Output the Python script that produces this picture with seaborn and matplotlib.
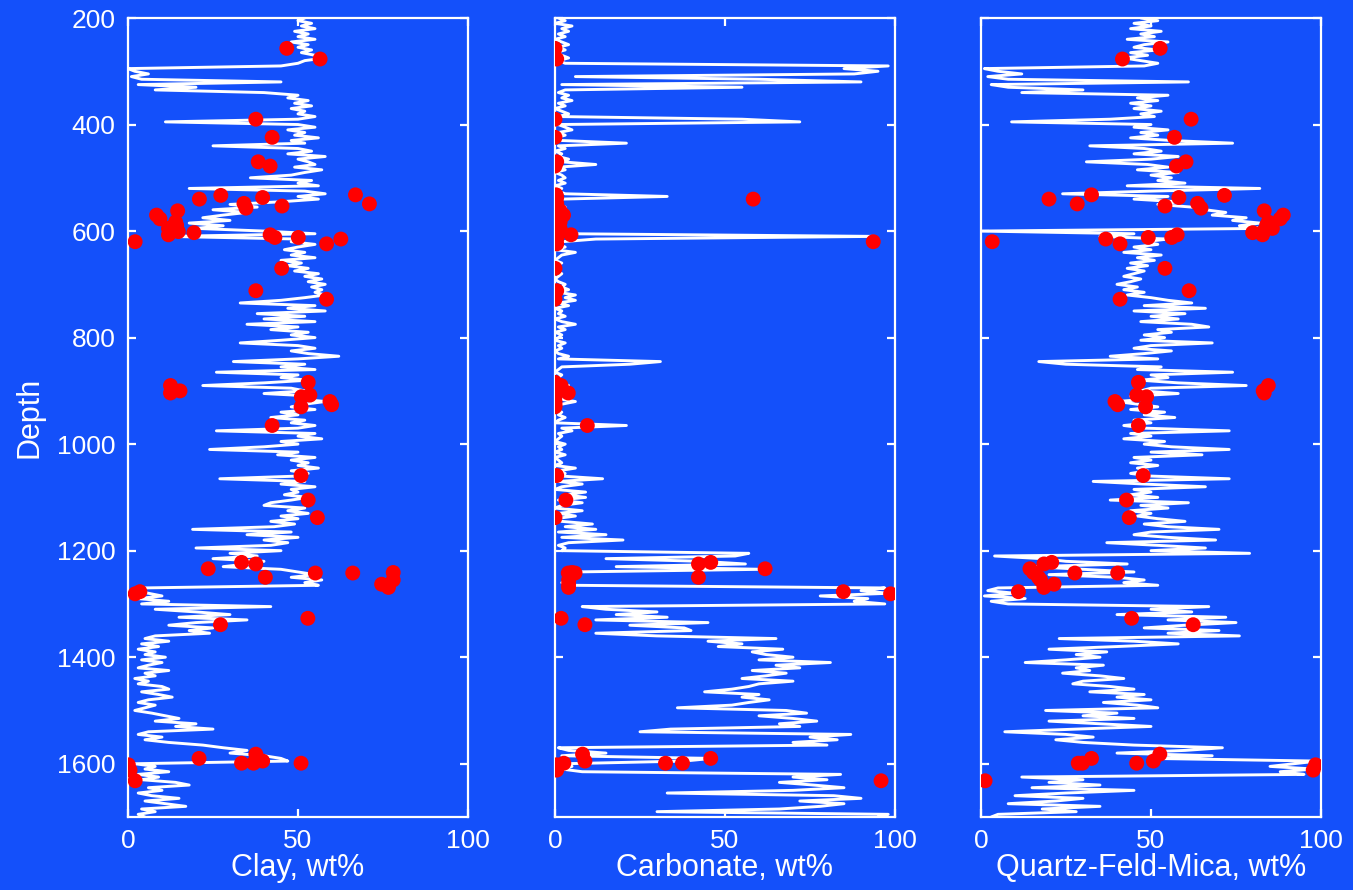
import numpy as np
import matplotlib
matplotlib.use("Agg")
import matplotlib.pyplot as plt
import seaborn as sns

# ---------------- data ----------------
# well-log sampling depths (regular 5-unit log sampling, 200 .. 1700)
log_depth = np.arange(200, 1701, 5)

# Clay log, wt% (one row per 100 depth units, 20 samples each) + last sample
clay_log = [
    52, 50, 54, 51, 55, 49, 53, 50, 55, 48, 53, 50, 54, 51, 55, 58, 52, 50, 45, 0,
    2, 6, 1, 4, 45, 3, 20, 8, 40, 50, 47, 53, 49, 54, 48, 52, 50, 55, 50, 11,
    50, 55, 47, 52, 49, 56, 48, 52, 25, 50, 54, 47, 58, 50, 53, 55, 49, 57, 52, 48,
    36, 54, 50, 56, 18, 52, 58, 50, 56, 45, 30, 38, 25, 35, 28, 22, 30, 18, 28, 20,
    40, 55, 12, 50, 48, 55, 50, 46, 52, 48, 55, 45, 51, 47, 53, 49, 56, 52, 57, 53,
    58, 54, 57, 55, 58, 52, 45, 33, 55, 47, 58, 38, 52, 40, 55, 35, 50, 42, 53, 48,
    55, 45, 33, 50, 55, 48, 53, 62, 50, 31, 52, 45, 55, 26, 50, 45, 53, 40, 22, 48,
    52, 40, 55, 50, 58, 52, 48, 55, 45, 50, 42, 52, 48, 55, 50, 26, 55, 50, 57, 45,
    50, 40, 24, 50, 44, 55, 48, 53, 50, 56, 48, 53, 50, 27, 52, 45, 55, 48, 50, 46,
    53, 48, 42, 40, 52, 47, 53, 45, 50, 42, 49, 43, 19, 48, 35, 50, 40, 47, 42, 20,
    45, 30, 38, 25, 40, 35, 28, 45, 50, 55, 48, 57, 52, 56, 4, 3, 6, 10, 3, 12,
    4, 42, 8, 20, 30, 15, 35, 20, 12, 25, 18, 24, 8, 5, 12, 4, 9, 3, 8, 5,
    11, 4, 10, 6, 3, 12, 5, 8, 2, 6, 3, 10, 12, 4, 9, 13, 6, 3, 8, 5,
    2, 7, 11, 15, 8, 20, 14, 25, 6, 3, 10, 5, 12, 22, 28, 35, 30, 40, 45, 47,
    2, 8, 5, 12, 3, 9, 4, 14, 18, 6, 10, 3, 7, 15, 5, 11, 17, 4, 8, 3,
    5,
]

# Carbonate log, wt%
carb_log = [
    1, 3, 0, 5, 2, 4, 1, 3, 0, 2, 4, 1, 3, 0, 2, 4, 1, 3, 98, 85,
    95, 88, 6, 60, 90, 2, 55, 3, 1, 4, 2, 5, 1, 3, 0, 2, 4, 1, 55, 72,
    1, 3, 5, 1, 3, 0, 2, 21, 1, 3, 0, 2, 1, 4, 2, 12, 1, 3, 0, 2,
    3, 1, 3, 0, 2, 1, 3, 33, 2, 0, 1, 3, 0, 2, 1, 3, 0, 2, 1, 0,
    2, 4, 94, 12, 2, 1, 3, 0, 6, 2, 1, 0, 2, 0, 1, 0, 2, 1, 0, 1,
    3, 2, 4, 1, 6, 3, 6, 1, 4, 0, 2, 1, 3, 0, 2, 6, 1, 3, 0, 2,
    1, 0, 3, 1, 2, 0, 1, 4, 1, 31, 22, 2, 1, 0, 2, 1, 0, 2, 4, 1,
    3, 5, 2, 1, 6, 2, 1, 0, 2, 1, 3, 1, 0, 21, 2, 5, 1, 2, 1, 0,
    3, 1, 2, 0, 3, 0, 1, 2, 0, 6, 1, 3, 2, 14, 1, 8, 2, 0, 9, 3,
    9, 1, 8, 2, 0, 8, 1, 6, 0, 2, 11, 3, 12, 1, 15, 2, 20, 4, 1, 3,
    2, 57, 53, 15, 43, 56, 18, 61, 5, 3, 6, 4, 2, 5, 97, 90, 98, 78, 92, 88,
    97, 8, 15, 30, 18, 33, 12, 45, 22, 38, 40, 12, 30, 65, 45, 55, 48, 67, 58, 62,
    70, 60, 81, 65, 72, 58, 68, 62, 55, 70, 60, 57, 52, 44, 60, 55, 63, 57, 52, 36,
    68, 74, 60, 70, 77, 66, 72, 34, 25, 87, 75, 83, 70, 80, 1, 4, 15, 2, 46, 38,
    3, 5, 2, 8, 84, 70, 80, 66, 76, 85, 70, 33, 82, 90, 72, 85, 78, 66, 30, 98,
    95,
]

# Quartz-Feldspar-Mica log, wt%
qfm_log = [
    47, 52, 45, 50, 44, 53, 47, 51, 43, 55, 48, 45, 52, 44, 49, 42, 47, 52, 48, 1,
    5, 12, 2, 8, 61, 3, 8, 30, 12, 55, 46, 52, 44, 50, 45, 53, 47, 51, 38, 9,
    50, 45, 55, 47, 52, 44, 56, 74, 32, 48, 53, 45, 58, 50, 31, 49, 55, 46, 58, 50,
    56, 52, 60, 43, 82, 50, 24, 55, 45, 58, 52, 62, 66, 72, 68, 78, 74, 82, 76, 83,
    0, 45, 35, 55, 48, 52, 45, 50, 42, 53, 46, 51, 44, 49, 43, 48, 45, 42, 47, 44,
    40, 46, 42, 48, 43, 50, 55, 62, 48, 66, 45, 60, 50, 58, 47, 62, 67, 52, 56, 48,
    54, 47, 68, 50, 45, 56, 48, 38, 52, 17, 25, 53, 46, 74, 50, 55, 47, 58, 78, 50,
    47, 58, 44, 50, 40, 46, 52, 44, 54, 48, 57, 45, 50, 42, 48, 73, 44, 50, 42, 54,
    48, 56, 73, 50, 65, 45, 50, 44, 52, 46, 49, 44, 50, 73, 33, 48, 66, 45, 50, 44,
    52, 38, 61, 47, 55, 44, 50, 46, 52, 60, 48, 55, 70, 50, 45, 55, 69, 37, 52, 66,
    50, 79, 4, 18, 25, 43, 15, 30, 45, 20, 40, 48, 42, 52, 5, 2, 10, 1, 13, 3,
    8, 67, 50, 62, 40, 72, 55, 75, 60, 48, 70, 55, 76, 23, 45, 58, 40, 20, 37, 28,
    35, 25, 13, 36, 28, 32, 24, 35, 42, 30, 27, 38, 45, 32, 48, 40, 50, 36, 46, 52,
    19, 40, 30, 45, 20, 35, 50, 28, 7, 25, 33, 22, 30, 45, 71, 60, 40, 68, 50, 99,
    92, 85, 98, 88, 95, 12, 30, 20, 35, 15, 45, 25, 10, 30, 22, 8, 35, 18, 28, 5,
    3,
]

# Core samples (red dots)
sample_depth = [257, 277, 390, 424, 470, 478, 532, 549, 533, 540, 537, 548, 557, 553,
                562, 570, 577, 583, 595, 589, 607, 601, 603, 620, 607, 612, 612, 615,
                624, 670, 712, 728, 884, 890, 904, 900, 911, 908, 930, 920, 926, 965,
                1059, 1105, 1138, 1222, 1225, 1234, 1250, 1242, 1242, 1241, 1255, 1263,
                1269, 1277, 1281, 1327, 1339, 1590, 1582, 1599, 1599, 1595, 1599, 1602,
                1612, 1632]
sample_clay = [46.7, 56.5, 37.6, 42.4, 38.3, 41.8, 66.9, 71.0, 27.3, 21.0, 39.6, 34.1, 34.7, 45.3,
               14.6, 8.4, 9.4, 14.0, 11.9, 14.3, 11.9, 14.8, 19.4, 2.1, 41.8, 43.2, 50.1, 62.6,
               58.4, 45.2, 37.6, 58.4, 53.0, 12.5, 12.5, 15.3, 51.0, 53.5, 50.9, 59.4, 59.9, 42.4,
               50.9, 53.0, 55.7, 33.4, 37.6, 23.6, 40.4, 55.1, 66.1, 78.0, 78.0, 74.6,
               76.6, 3.5, 2.1, 52.9, 27.2, 20.9, 37.6, 33.4, 36.9, 39.6, 50.9, 0.1,
               0.6, 2.1]
sample_carb = [0.0, 0.5, 0.0, 0.0, 0.5, 0.0, 0.3, 0.3, 0.3, 58.3, 0.5, 0.5, 0.5, 0.5,
               1.5, 2.5, 1.0, 1.5, 1.5, 1.0, 4.7, 1.5, 0.5, 93.6, 0.5, 0.5, 0.5, 0.5,
               0.5, 0.0, 0.5, 0.0, 0.0, 1.8, 3.9, 1.0, 0.0, 0.0, 0.0, 0.0, 0.0, 9.5,
               0.5, 3.2, 0.0, 45.8, 42.2, 61.8, 42.2, 3.9, 5.9, 5.0, 4.0, 4.0,
               4.0, 84.8, 98.7, 1.8, 8.8, 45.8, 8.1, 37.5, 32.5, 8.8, 2.6, 0.5,
               0.5, 95.9]
sample_qfm = [52.7, 41.6, 61.8, 56.9, 60.3, 57.5, 32.5, 28.3, 71.6, 20.0, 58.2, 63.7, 64.7, 54.1,
              83.3, 88.9, 88.0, 84.5, 85.7, 84.0, 82.8, 83.0, 79.9, 3.3, 57.7, 56.1, 49.2, 36.7,
              40.9, 54.1, 61.2, 40.9, 46.3, 84.5, 83.3, 83.0, 48.7, 45.8, 48.4, 39.4, 40.2, 46.3,
              47.7, 42.8, 43.6, 20.8, 18.5, 14.4, 16.9, 40.2, 27.6, 15.4, 17.5, 21.5,
              18.5, 11.0, np.nan, 44.3, 62.4, 32.5, 52.6, 28.6, 29.8, 50.7, 45.8, 98.4,
              97.7, 1.2]

x_labels = ["Clay, wt%", "Carbonate, wt%", "Quartz-Feld-Mica, wt%"]
x_ticks = [0, 50, 100]
y_ticks = [200, 400, 600, 800, 1000, 1200, 1400, 1600]

# ---------------- style ----------------
BG = "#1450fa"
sns.set_theme(style="ticks")
plt.rcParams["font.family"] = ["Liberation Sans", "DejaVu Sans"]

W, H = 1353, 890
fig = plt.figure(figsize=(W / 100, H / 100), dpi=100, facecolor=BG)

lefts = [128, 555, 981]
logs = [clay_log, carb_log, qfm_log]
samples = [sample_clay, sample_carb, sample_qfm]

for i in range(3):
    ax = fig.add_axes([lefts[i] / W, (H - 817) / H, 340 / W, 799 / H])
    ax.set_facecolor(BG)
    sns.lineplot(x=logs[i], y=log_depth, orient="y", sort=False, estimator=None,
                 color="white", linewidth=2.1, ax=ax, zorder=2)
    sns.scatterplot(x=samples[i], y=sample_depth, color="#ff0000", s=115,
                    edgecolor="none", linewidth=0, ax=ax, zorder=3)
    ax.set_xlim(0, 100)
    ax.set_ylim(1700, 200)
    ax.set_xticks(x_ticks)
    ax.set_yticks(y_ticks)
    for sp in ax.spines.values():
        sp.set_color("white")
        sp.set_linewidth(1.6)
        sp.set_visible(True)
    ax.tick_params(axis="both", direction="in", length=6, width=1.6, color="white",
                   labelcolor="white", labelsize=19, top=True, right=True, pad=9)
    ax.set_xlabel(x_labels[i], color="white", fontsize=22)
    ax.xaxis.set_label_coords(0.5, -0.045)
    if i == 0:
        ax.set_ylabel("Depth", color="white", fontsize=22)
        ax.yaxis.set_label_coords(-0.247, 0.5)
    else:
        ax.set_ylabel("")
        ax.set_yticklabels([])
    ax.grid(False)

fig.savefig("out.png", dpi=100, facecolor=BG)
